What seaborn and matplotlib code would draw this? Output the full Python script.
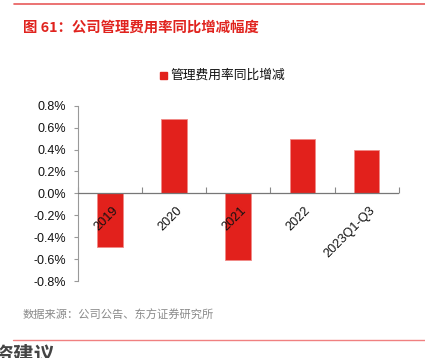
import matplotlib
matplotlib.use("Agg")
import matplotlib.pyplot as plt
import seaborn as sns
import pandas as pd
import numpy as np
from matplotlib.lines import Line2D

categories = ["2019", "2020", "2021", "2022", "2023Q1-Q3"]
values = [-0.49, 0.68, -0.61, 0.50, 0.40]
series_name = "管理费用率同比增减"
title = "图 61：公司管理费用率同比增减幅度"
source = "数据来源：公司公告、东方证券研究所"
yticks = [-0.8, -0.6, -0.4, -0.2, 0.0, 0.2, 0.4, 0.6, 0.8]

sns.set_theme(style="white")
plt.rcParams['font.family'] = ['Liberation Sans', 'Noto Sans CJK SC', 'DejaVu Sans']

W, H = 425, 358
fig = plt.figure(figsize=(W / 100, H / 100), dpi=100)

def fx(px):
    return px / W

def fy(py):
    return 1 - py / H

ax = fig.add_axes([fx(77.7), fy(281), fx(398.7) - fx(77.7), fy(105.7) - fy(281)])

df = pd.DataFrame({"cat": categories, "val": values})
red = "#E2211C"
sns.barplot(data=df, x="cat", y="val", color=red, width=0.4, ax=ax,
            edgecolor="#F08A86", linewidth=0.6, saturation=1)

ax.set_xlim(-0.5, len(categories) - 0.5)
ax.set_ylim(-0.8, 0.8)
ax.set_yticks(yticks)
ax.set_yticklabels([f"{v:.1f}%" for v in yticks], fontsize=9, color="#111111")
ax.set_xlabel("")
ax.set_ylabel("")

# x ticks at boundaries, labels at centers
ax.set_xticks(np.arange(-0.5, len(categories), 1.0))
ax.set_xticklabels([])
ax.tick_params(axis="x", which="major", direction="in", length=4, width=0.8, color="#888888", bottom=True)
ax.tick_params(axis="y", which="major", direction="out", length=3, width=0.8, color="#999999", left=True, pad=5.5)

for sp in ["top", "right", "bottom"]:
    ax.spines[sp].set_visible(False)
ax.spines["left"].set_color("#999999")
ax.spines["left"].set_linewidth(0.8)
ax.axhline(0, color="#777777", linewidth=0.9, zorder=3)
ax.spines["bottom"].set_position(("data", 0))

for i, c in enumerate(categories):
    ax.text(i + 0.03, -0.105, c, rotation=45, ha="right", va="top",
            rotation_mode="anchor", fontsize=9.2, color="#111111")

# legend
fig.patches.append(matplotlib.patches.Rectangle((fx(160), fy(79)), fx(7), 7 / H,
                                                transform=fig.transFigure, color=red))
fig.text(fx(170), fy(75.5), series_name, fontsize=9.2, color="#111111",
         va="center", ha="left", family=['Noto Sans CJK SC', 'DejaVu Sans'])

# title and decorations
fig.add_artist(Line2D([fx(14), 1], [fy(4), fy(4)], color="#E85A5A", linewidth=1.2,
                      transform=fig.transFigure))
fig.text(fx(23), fy(28), title, fontsize=10.4, color="#E0231E", fontweight="bold",
         va="center", ha="left", family=['Noto Sans CJK SC', 'DejaVu Sans'])
fig.text(fx(23), fy(315), source, fontsize=8.1, color="#8A8A8A",
         va="center", ha="left", family=['Noto Sans CJK SC', 'DejaVu Sans'])
fig.add_artist(Line2D([fx(13), 1], [fy(340), fy(340)], color="#F08080", linewidth=1.0,
                      transform=fig.transFigure))
fig.text(fx(-8), fy(345), "资建议", fontsize=15, color="#444444", fontweight="bold",
         va="top", ha="left", family=['Noto Sans CJK SC', 'DejaVu Sans'])

fig.savefig("out.png", dpi=100)
